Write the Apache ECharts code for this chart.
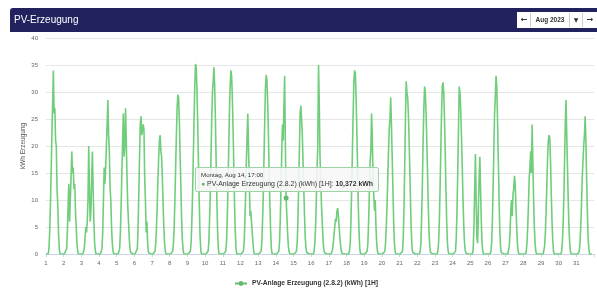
<!DOCTYPE html>
<html>
<head>
<meta charset="utf-8">
<script src="https://cdn.jsdelivr.net/npm/echarts@6/dist/echarts.min.js"></script>
<style>
html, body { margin: 0; padding: 0; background: #fff; }
#main { width: 597px; height: 289px; }
</style>
</head>
<body>
<div id="main"></div>
<script>
// Tageslabels der x-Achse
var dayLabels = ['1','2','3','4','5','6','7','8','9','10','11','12','13','14','15','16',
	'17','18','19','20','21','22','23','24','25','26','27','28','29','30','31'];

// Erzeugung je Stunde (kWh), ein Array pro Tag, 24 Werte
var erzeugung = [
	[0,0,0,0,1,4,9,15,22,28,34,26,27,21,20,12,9,4,1,0,0,0,0,0],
	[0,0,0,0,1,4,9,13,6,10,14,19,15,16,12,13,8,5,2,0.5,0,0,0,0],
	[0,0,0,0,1,3,5,4,6,10,20,12,6,8,14,19,12,6,2,0.5,0,0,0,0],
	[0,0,0,0,1,4,10,16,13,16,20,24,28.5,22,19,12,10,5,2,0.5,0,0,0,0],
	[0,0,0,0,1,4,9,15,21,26,18,20,27,21,14,9,6,3,1,0.3,0,0,0,0],
	[0,0,0,0,1,5,11,18,24,25.5,22,23,24,23,14,10,4,6,2,0.3,0,0,0,0],
	[0,0,0,0,0.5,2,5,9,14,18,21,22,19,18,14,9,5,2,0.5,0,0,0,0,0],
	[0,0,0,0,0.5,2,5,10,16,22,27,29.5,29,25,19,13,7,3,1,0,0,0,0,0],
	[0,0,0,0,0.5,2,6,11,18,25,31,35.2,34.5,30,24,17,10,4,1,0,0,0,0,0],
	[0,0,0,0,0.5,2,6,11,18,25,30,32,34.6,31,25,17,10,4,1,0,0,0,0,0],
	[0,0,0,0,0.5,2,6,12,19,26,31,34,33,29,23,16,9,4,1,0,0,0,0,0],
	[0,0,0,0,0.5,2,6,11,17,22,26,19,14,7,8,6,4,2,0.5,0,0,0,0,0],
	[0,0,0,0,0.5,2,6,11,18,25,31,33.2,32,28,22,15,9,4,1,0,0,0,0,0],
	[0,0,0,0,0.5,2,6,12,18,24,21,27,33,20,10.372,7,4,1.5,0.5,0,0,0,0,0],
	[0,0,0,0,0.5,2,6,12,19,26,27.5,25,22,17,12,7,3,1,0.3,0,0,0,0,0],
	[0,0,0,0,0.5,2,5,10,16,20,35,28,18,14,9,6,3,1,0.3,0,0,0,0,0],
	[0,0,0,0,0.2,0.8,2,3.5,5,6.5,6,8,8.5,7,5,3,1.5,0.5,0.1,0,0,0,0,0],
	[0,0,0,0,0.5,2,6,12,19,26,32,34,33.5,29,23,16,9,4,1,0,0,0,0,0],
	[0,0,0,0,0.5,2,6,11,17,19,26,22,14,11,8,10,5,2,0.5,0,0,0,0,0],
	[0,0,0,0,0.5,2,5,9,14,19,23,25,29,24,18,12,6,2,0.5,0,0,0,0,0],
	[0,0,0,0,0.5,3,8,16,25,32,30,29,26,21,15,9,4,1,0.3,0,0,0,0,0],
	[0,0,0,0,0.5,2,7,13,21,27,31,30,26,21,15,9,4,1.5,0.3,0,0,0,0,0],
	[0,0,0,0,0.5,2,6,12,19,26,31,31.8,30,25,19,12,6,2,0.5,0,0,0,0,0],
	[0,0,0,0,0.5,3,8,15,23,31,30,27,22,17,11,6,2.5,0.8,0.2,0,0,0,0,0],
	[0,0,0,0,1,5,12,18.5,10,3,2,8,14,18,12,6,2,0.5,0,0,0,0,0,0],
	[0,0,0,0,0.5,2,6,12,19,26,29,33,31,25,18,11,5,1.5,0.3,0,0,0,0,0],
	[0,0,0,0,0.3,1.5,4,8,10,7,11,12,14.5,13,9,5,2,0.5,0,0,0,0,0,0],
	[0,0,0,0,0.5,2,5,9,14,16,19,15,24,17,10,5,2,0.5,0,0,0,0,0,0],
	[0,0,0,0,0.3,1.5,4,8,13,18,21,22,21.5,17,11,6,2.5,0.5,0,0,0,0,0,0],
	[0,0,0,0,0.5,2,5,10,17,24,28.5,22,16,10,5,2,0.5,0,0,0,0,0,0,0],
	[0,0,0,0,0.5,2,5,9,14,17,20,22,25.5,21,14,8,3,1,0,0,0,0,0,0]
];

var seriesName = 'PV-Anlage Erzeugung (2.8.2) (kWh) [1H]';
var tipTitle = 'Montag, Aug 14, 17:00';
var tipDay = 14, tipHour = 14;

var points = [];
for (var d = 0; d < erzeugung.length; d++) {
	for (var h = 0; h < 24; h++) {
		points.push([d * 24 + h, erzeugung[d][h]]);
	}
}

var green = '#66bb70';
var dom = document.getElementById('main');
var myChart = echarts.init(dom);

var option = {
	animation : false,
	backgroundColor : '#fff',
	textStyle : { fontFamily : 'Liberation Sans' },
	grid : { left : 46, right : 2, top : 38, bottom : 35 },
	tooltip : {
		trigger : 'axis',
		alwaysShowContent : true,
		transitionDuration : 0,
		axisPointer : { type : 'none' },
		backgroundColor : 'rgba(247,247,247,0.88)',
		borderColor : '#9fd3a5',
		borderWidth : 1,
		padding : [2, 5],
		extraCssText : 'box-shadow:none;border-radius:2px;',
		position : function() { return [195, 167]; },
		formatter : function(params) {
			var p = params[0];
			var v = p.value[1].toFixed(3).replace('.', ',');
			return '<div style="font:6.2px Liberation Sans;color:#333;line-height:9px">' + tipTitle + '</div>' +
				'<div style="font:6.9px Liberation Sans;color:#333;line-height:10px">' +
				'<span style="color:' + green + '">\u25CF</span> ' + seriesName + ': <b>' + v + ' kWh</b></div>';
		}
	},
	legend : {
		left : 229,
		top : 275,
		itemWidth : 12,
		itemHeight : 6,
		itemGap : 2,
		textStyle : { fontSize : 6.7, fontWeight : 'bold', color : '#333' },
		data : [ seriesName ]
	},
	xAxis : {
		type : 'value',
		min : 0,
		max : 744,
		interval : 24,
		axisLine : { lineStyle : { color : '#ccd6eb' } },
		axisTick : { show : true, length : 3, lineStyle : { color : '#ccd6eb' } },
		splitLine : { show : false },
		axisLabel : {
			fontSize : 6, color : '#666', margin : 6,
			formatter : function(v) { return dayLabels[v / 24] || ''; }
		}
	},
	yAxis : {
		type : 'value',
		min : 0,
		max : 40,
		interval : 5,
		name : 'kWh Erzeugung',
		nameLocation : 'middle',
		nameGap : 19,
		nameMoveOverlap : false,
		nameTextStyle : { fontSize : 6.5, color : '#555' },
		axisLine : { show : false },
		axisTick : { show : false },
		splitLine : { lineStyle : { color : '#e6e6e6' } },
		axisLabel : { fontSize : 6, color : '#666', margin : 8 }
	},
	series : [ {
		name : seriesName,
		type : 'line',
		data : points,
		showSymbol : false,
		symbol : 'circle',
		symbolSize : 5,
		itemStyle : { color : green },
		lineStyle : { color : green, width : 1.6 },
		emphasis : { lineStyle : { width : 1.6 }, scale : false }
	} ],
	graphic : [
		{ type : 'rect', shape : { x : 10, y : 8, width : 600, height : 24, r : [3, 0, 0, 0] }, style : { fill : '#22235e' } },
		{ type : 'text', x : 14, y : 20, style : { text : 'PV-Erzeugung', fill : '#fff', fontSize : 10, fontFamily : 'Liberation Sans', verticalAlign : 'middle' } },
		{ type : 'rect', shape : { x : 517, y : 12, width : 80, height : 16 }, style : { fill : '#fff' } },
		{ type : 'line', shape : { x1 : 530.5, y1 : 13, x2 : 530.5, y2 : 27 }, style : { stroke : '#ccc' } },
		{ type : 'line', shape : { x1 : 569.5, y1 : 13, x2 : 569.5, y2 : 27 }, style : { stroke : '#ccc' } },
		{ type : 'line', shape : { x1 : 582.5, y1 : 13, x2 : 582.5, y2 : 27 }, style : { stroke : '#ccc' } },
		{ type : 'text', x : 524, y : 20, style : { text : '\u2190', fill : '#333', fontSize : 8, fontFamily : 'DejaVu Sans', align : 'center', verticalAlign : 'middle', fontWeight : 'bold' } },
		{ type : 'text', x : 550, y : 20, style : { text : 'Aug 2023', fill : '#333', fontSize : 6.5, fontFamily : 'Liberation Sans', align : 'center', verticalAlign : 'middle', fontWeight : 'bold' } },
		{ type : 'text', x : 576, y : 20, style : { text : '\u25BC', fill : '#333', fontSize : 6, fontFamily : 'DejaVu Sans', align : 'center', verticalAlign : 'middle' } },
		{ type : 'text', x : 590, y : 20, style : { text : '\u2192', fill : '#333', fontSize : 8, fontFamily : 'DejaVu Sans', align : 'center', verticalAlign : 'middle', fontWeight : 'bold' } }
	]
};

myChart.setOption(option, true);
myChart.dispatchAction({ type : 'showTip', seriesIndex : 0, dataIndex : (tipDay - 1) * 24 + tipHour });
</script>
</body>
</html>
